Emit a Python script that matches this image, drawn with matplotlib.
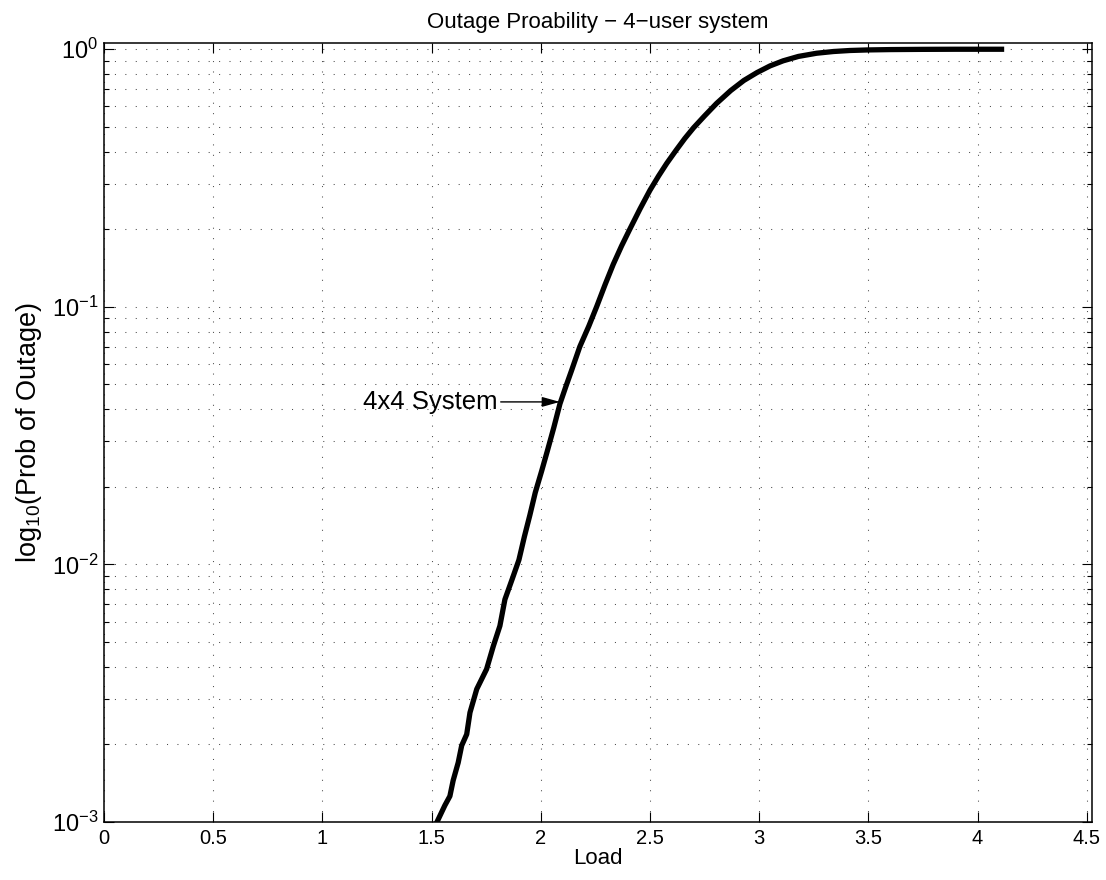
import matplotlib
matplotlib.use("Agg")
import matplotlib.pyplot as plt
import numpy as np

# -----------------------------
# Data
# -----------------------------
load = [1.520, 1.561, 1.584, 1.599, 1.622, 1.638, 1.661, 1.676, 1.707, 1.752,
        1.783, 1.813, 1.836, 1.870, 1.900, 1.925, 1.950, 1.975, 2.004, 2.030,
        2.060, 2.088, 2.115, 2.141, 2.179, 2.220, 2.256, 2.295, 2.332, 2.370,
        2.408, 2.455, 2.500, 2.540, 2.577, 2.620, 2.660, 2.700, 2.750, 2.805,
        2.870, 2.930, 2.990, 3.050, 3.110, 3.180, 3.263, 3.340, 3.416, 3.500,
        3.600, 3.750, 3.900, 4.110]
p_out = [0.00098, 0.00116, 0.00126, 0.00145, 0.00170, 0.00198, 0.00219, 0.00266,
         0.00328, 0.00392, 0.00482, 0.00577, 0.00731, 0.0088, 0.0104, 0.0128,
         0.0155, 0.0190, 0.0230, 0.0275, 0.0340, 0.0420, 0.0490, 0.0565, 0.0700,
         0.0840, 0.100, 0.122, 0.146, 0.172, 0.200, 0.240, 0.283, 0.322, 0.360,
         0.405, 0.450, 0.495, 0.550, 0.615, 0.690, 0.755, 0.810, 0.860, 0.900,
         0.936, 0.963, 0.978, 0.987, 0.992, 0.995, 0.997, 0.998, 0.998]

x_ticks = [0, 0.5, 1, 1.5, 2, 2.5, 3, 3.5, 4, 4.5]
x_tick_labels = ["0", "0.5", "1", "1.5", "2", "2.5", "3", "3.5", "4", "4.5"]

label_text = "4x4 System"
label_tip = (2.088, 0.0427)
label_from = (1.804, 0.0427)

# -----------------------------
# Style
# -----------------------------
plt.rcParams["font.family"] = ["Liberation Sans", "DejaVu Sans"]
plt.rcParams["mathtext.fontset"] = "custom"
plt.rcParams["mathtext.rm"] = "Liberation Sans"
plt.rcParams["mathtext.it"] = "Liberation Sans"

fig = plt.figure(figsize=(11.06, 8.8), dpi=100)
ax = fig.add_axes([0.0940, 0.0659, 0.8933, 0.8852])

ax.plot(load, p_out, color="black", lw=3.8, solid_joinstyle="round")
ax.set_yscale("log")
ax.set_xlim(0, 4.524)
ax.set_ylim(1e-3, 1.055)

ax.set_xticks(x_ticks)
ax.set_xticklabels(x_tick_labels)

ax.grid(True, which="major", axis="x", color="0.3", lw=0.75, linestyle=(0, (1, 9)))
ax.grid(True, which="both", axis="y", color="0.3", lw=0.75, linestyle=(0, (1, 9)))

ax.tick_params(which="both", direction="in", top=True, right=True,
               width=0.8, pad=5)
ax.tick_params(axis="x", labelsize=14.5)
ax.tick_params(axis="y", labelsize=17, pad=4)
ax.tick_params(which="major", length=7)
ax.tick_params(which="minor", length=3.5)
for s in ax.spines.values():
    s.set_linewidth(1.1)

ax.set_title("Outage Proability \u2212 4\u2212user system", fontsize=16, pad=11)
ax.set_xlabel("Load", fontsize=16)
ax.xaxis.set_label_coords(0.5, -0.034)
ax.set_ylabel(r"log$_\mathregular{10}$(Prob of Outage)", fontsize=19.5)
ax.yaxis.set_label_coords(-0.061, 0.5)

ax.annotate(label_text, xy=label_tip, xytext=label_from,
            fontsize=18.5, ha="right", va="center",
            arrowprops=dict(arrowstyle="-|>,head_length=0.9,head_width=0.25",
                            mutation_scale=12, color="black", lw=1,
                            shrinkA=0, shrinkB=0))

fig.savefig("out.png", dpi=100)
plt.close(fig)
